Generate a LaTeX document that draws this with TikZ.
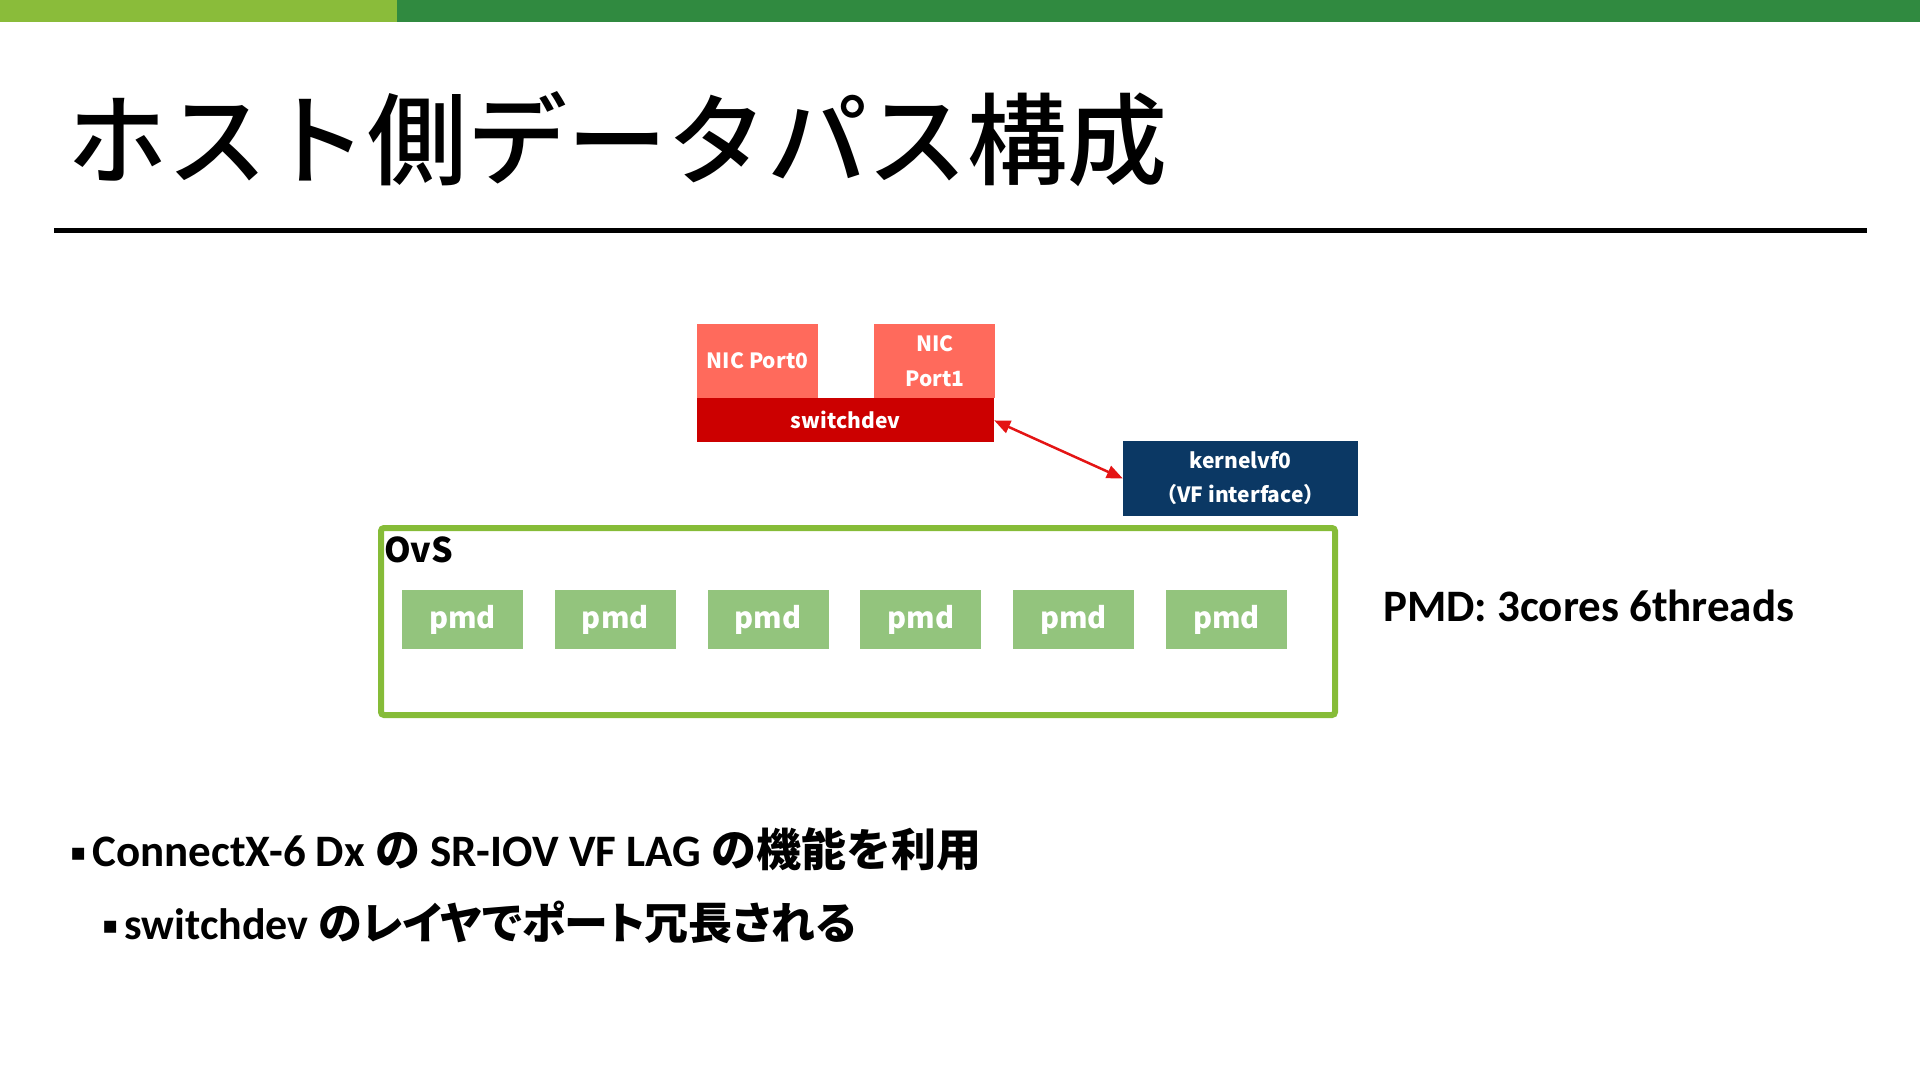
\documentclass[tikz,border=0pt]{standalone}
\usepackage{fontspec}
\setmainfont{Carlito}
\newfontfamily\jpfont{Noto Sans CJK JP}
\newfontfamily\jppfont{Noto Sans CJK JP}[RawFeature=+palt]
\newfontfamily\titlefont{Noto Sans CJK JP Medium}
\newfontfamily\symfont{DejaVu Sans}
\usetikzlibrary{calc, positioning, arrows.meta}

\definecolor{barlight}{RGB}{138,188,58}
\definecolor{bardark}{RGB}{48,138,64}
\definecolor{nicred}{RGB}{255,106,92}
\definecolor{swred}{RGB}{204,0,0}
\definecolor{vfblue}{RGB}{11,56,100}
\definecolor{ovsgreen}{RGB}{134,188,56}
\definecolor{pmdgreen}{RGB}{147,196,125}
\definecolor{arrred}{RGB}{228,20,20}

\newcommand{\fsz}[1]{\fontsize{#1}{#1}\selectfont}
\newcommand{\jb}[1]{{\jpfont\bfseries #1}}
\newcommand{\jpb}[1]{{\jppfont\bfseries #1}}
\newcommand{\bul}{{\symfont\fsz{24}\raisebox{6pt}{▪}}\hspace{6pt}}

\tikzset{
  nicbox/.style={fill=nicred, text=white, inner sep=0pt, align=center,
    font=\jpfont\bfseries\fontsize{21}{35}\selectfont,
    minimum width=121, minimum height=74},
  swbox/.style={nicbox, fill=swred, minimum width=297, minimum height=44},
  vfbox/.style={nicbox, fill=vfblue, font=\jpfont\bfseries\fontsize{21}{34}\selectfont,
    minimum width=235, minimum height=75},
  ovsbox/.style={draw=ovsgreen, line width=6, rounded corners=3,
    minimum width=954, minimum height=187},
  pmdbox/.style={fill=pmdgreen, text=white, inner sep=0pt,
    font=\jpfont\bfseries\fsz{29}, minimum width=121, minimum height=59},
  bigtext/.style={anchor=west, inner sep=0pt, font=\bfseries\fsz{44}},
  link/.style={{Triangle[length=16,width=13]}-{Triangle[length=16,width=13]},
    draw=arrred, line width=2.5}
}

\begin{document}
\begin{tikzpicture}[x=1pt, y=-1pt]
  \useasboundingbox (0,0) rectangle (1920,1081);
  % header bar and title
  \fill[barlight] (0,0) rectangle (397,22);
  \fill[bardark] (397,0) rectangle (1920,22);
  \node[anchor=west, inner sep=0pt, font=\titlefont\fsz{100}] (title) at (67,139) {ホスト側データパス構成};
  \draw[line width=5] (54,230) -- (1867,230);

  % NIC ports and switchdev
  \node[nicbox] (port0) at (757.5,361) {NIC Port0};
  \node[nicbox, right=56 of port0] (port1) {NIC\\Port1};
  \node[swbox, anchor=north west] (sw) at (port0.south west) {switchdev};
  \node[vfbox] (vf) at (1240.5,478.5) {kernelvf0\\（VF interface）};
  \draw[link] (sw.east) -- (vf.west);

  % OvS with pmd threads
  \node[ovsbox] (ovs) at (858,621.5) {};
  \node[anchor=west, inner sep=0pt, font=\jpfont\bfseries\fsz{34}] (ovslabel) at ($(ovs.north west)+(6,25)$) {OvS};
  \foreach \i in {1,...,6}
    \node[pmdbox] (pmd\i) at (462.5+152.8*\i-152.8, 619.5) {pmd};
  \node[bigtext, font=\bfseries\fsz{45}] (pmdnote) at (1383,606) {PMD: 3cores 6threads};

  % notes
  \node[bigtext, font=\bfseries\fsz{45}] (item1) at (70,849) {\bul ConnectX-6 Dx \jb{の} SR-IOV VF LAG \jb{の機能を利用}};
  \node[bigtext] (item2) at (102,922) {\bul switchdev \jpb{のレイヤでポート冗長される}};
\end{tikzpicture}
\end{document}
